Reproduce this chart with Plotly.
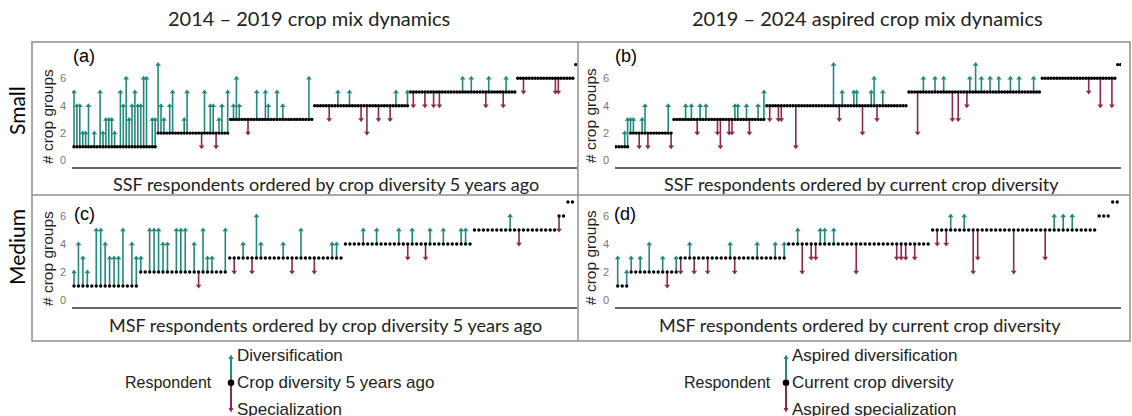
import plotly.graph_objects as go

W, H = 1132, 416

# ---------------- data ----------------
# (a) SSF 2014-2019, ordered by crop diversity 5 years ago
a_levels = [1, 2, 3, 4, 5, 6, 7]
a_counts = [29, 25, 29, 33, 37, 20, 1]
a_idx = [0, 1, 2, 3, 4, 5, 7, 9, 10, 11, 12, 13, 14, 16, 17, 18, 19, 20, 21, 22, 23, 24, 25, 27, 28,
         29, 30, 31, 33, 34, 38, 39, 44, 45, 47, 48, 49, 50, 51, 53,
         55, 56, 57, 60, 63, 66, 67, 70, 72, 81,
         88, 91, 95, 99, 101, 105, 109, 111, 115,
         117, 121, 124, 126, 134, 137, 142, 143, 148, 149,
         155, 166, 167]
a_to = [5, 4, 4, 2, 2, 4, 2, 5, 2, 3, 3, 3, 2, 5, 4, 6, 3, 4, 5, 4, 4, 6, 6, 3, 3,
        7, 4, 3, 4, 5, 3, 5, 1, 5, 4, 4, 1, 3, 4, 5,
        4, 6, 4, 2, 5, 5, 4, 5, 4, 6,
        3, 5, 5, 3, 2, 3, 3, 5, 5,
        4, 4, 4, 4, 6, 6, 4, 6, 4, 6,
        5, 5, 5]

# (b) SSF 2019-2024 aspired, ordered by current crop diversity
b_levels = [1, 2, 3, 4, 5, 6, 7]
b_counts = [5, 15, 32, 49, 46, 26, 2]
b_idx = [3, 4,
         5, 6, 8, 9, 10, 11, 18, 19,
         24, 26, 28, 29, 31, 35, 36, 39, 40, 41, 42, 45, 46, 49, 51,
         53, 56, 57, 62, 75, 77, 78, 82, 83, 85, 88, 89, 90, 92,
         104, 106, 110, 113, 116, 118, 121, 122, 124, 126, 129, 132, 136, 139, 144,
         163, 167, 171]
b_to = [2, 3,
        3, 3, 1, 3, 4, 1, 4, 1,
        4, 4, 2, 4, 4, 2, 1, 2, 2, 4, 4, 4, 2, 4, 5,
        3, 3, 3, 1, 7, 3, 5, 5, 5, 2, 5, 6, 3, 5,
        2, 6, 6, 6, 3, 3, 4, 6, 7, 6, 6, 6, 6, 6, 6,
        5, 4, 4]

# (c) MSF 2014-2019, ordered by crop diversity 5 years ago
c_levels = [1, 2, 3, 4, 5, 6, 7]
c_counts = [15, 20, 26, 29, 19, 2, 2]
c_idx = [0, 1, 2, 3, 5, 6, 7, 8, 9, 10, 11, 13, 14,
         15, 17, 18, 19, 20, 21, 23, 24, 25, 27, 28, 29, 30, 31, 34,
         36, 38, 40, 41, 42, 47, 49, 51, 54, 58, 59,
         65, 68, 73, 75, 76, 79, 80, 83, 87, 88,
         98, 100,
         109]
c_to = [2, 4, 3, 2, 5, 5, 4, 3, 3, 3, 5, 4, 3,
        3, 5, 5, 5, 4, 4, 5, 5, 5, 4, 1, 5, 3, 3, 5,
        2, 4, 2, 6, 4, 4, 2, 5, 2, 4, 4,
        5, 5, 5, 3, 5, 3, 5, 5, 5, 5,
        6, 4,
        5]

# (d) MSF 2019-2024 aspired, ordered by current crop diversity
d_levels = [1, 2, 3, 4, 5, 6, 7]
d_counts = [3, 11, 24, 32, 37, 3, 2]
d_idx = [0, 2,
         3, 5, 7, 10, 11, 13,
         14, 16, 17, 20, 25, 26, 31, 35, 37,
         40, 41, 43, 44, 45, 46, 48, 53, 62, 63, 64, 66,
         71, 73, 74, 77, 79, 80, 88, 95, 97, 99, 101]
d_to = [3, 2,
        3, 3, 4, 3, 1, 3,
        2, 4, 2, 2, 4, 2, 4, 4, 4,
        5, 2, 3, 3, 5, 5, 5, 2, 3, 3, 3, 3,
        4, 4, 6, 6, 2, 3, 2, 3, 6, 6, 6]

y_ticks = [0, 2, 4, 6]
panel_letters = ["(a)", "(b)", "(c)", "(d)"]
col_titles = ["2014 \u2013 2019 crop mix dynamics", "2019 \u2013 2024 aspired crop mix dynamics"]
row_titles = ["Small", "Medium"]
x_titles = ["SSF respondents ordered by crop diversity 5 years ago",
            "SSF respondents ordered by current crop diversity",
            "MSF respondents ordered by crop diversity 5 years ago",
            "MSF respondents ordered by current crop diversity"]
legend_left = ["Respondent", "Diversification", "Crop diversity 5 years ago", "Specialization"]
legend_right = ["Respondent", "Aspired diversification", "Current crop diversity", "Aspired specialization"]

# ---------------- styling / layout ----------------
TEAL = "#23897c"
MAROON = "#8c2a4c"
BOX = "#8f8f8f"
TXT = "#222222"
TICK = "#777777"
FONT_T = "Lato"
FONT_A = "Liberation Sans"

# panel geometry in pixels: x-domain, first-respondent px, spacing; y-domain, zero px, px per unit
panels = [
    dict(data=(a_levels, a_counts, a_idx, a_to), xd=(72, 577), x0=74.0, s=2.9,
         yd=(44, 167), v0=160.5, vs=13.7),
    dict(data=(b_levels, b_counts, b_idx, b_to), xd=(615, 1121), x0=616.0, s=2.9,
         yd=(44, 167), v0=160.5, vs=13.7),
    dict(data=(c_levels, c_counts, c_idx, c_to), xd=(72, 577), x0=74.0, s=4.45,
         yd=(199, 307), v0=300.0, vs=14.0),
    dict(data=(d_levels, d_counts, d_idx, d_to), xd=(615, 1121), x0=617.7, s=4.5,
         yd=(199, 307), v0=300.0, vs=14.0),
]


def fx(px):
    return px / W


def fy(py):
    return 1 - py / H


fig = go.Figure()
layout_axes = {}
for k, p in enumerate(panels):
    levels, counts, idx, to = p["data"]
    base = []
    for lv, c in zip(levels, counts):
        base += [lv] * c
    n = len(base)
    sfx = "" if k == 0 else str(k + 1)
    xa, ya = "x" + sfx, "y" + sfx

    ux, uy, dx, dy = [], [], [], []
    uhx, uhy, dhx, dhy = [], [], [], []
    for i, t in zip(idx, to):
        b = base[i]
        if t > b:
            ux += [i, i, None]; uy += [b, t, None]
            uhx.append(i); uhy.append(t)
        else:
            dx += [i, i, None]; dy += [b, t, None]
            dhx.append(i); dhy.append(t)

    fig.add_trace(go.Scatter(x=ux, y=uy, mode="lines", line=dict(color=TEAL, width=1.6),
                             xaxis=xa, yaxis=ya, hoverinfo="skip", showlegend=False))
    fig.add_trace(go.Scatter(x=dx, y=dy, mode="lines", line=dict(color=MAROON, width=1.6),
                             xaxis=xa, yaxis=ya, hoverinfo="skip", showlegend=False))
    fig.add_trace(go.Scatter(x=list(range(n)), y=base, mode="markers",
                             marker=dict(color="black", size=3.4, line=dict(width=0)),
                             xaxis=xa, yaxis=ya, showlegend=False))
    fig.add_trace(go.Scatter(x=uhx, y=uhy, mode="markers",
                             marker=dict(symbol="triangle-up", color=TEAL, size=5, line=dict(width=0)),
                             xaxis=xa, yaxis=ya, showlegend=False))
    fig.add_trace(go.Scatter(x=dhx, y=dhy, mode="markers",
                             marker=dict(symbol="triangle-down", color=MAROON, size=5, line=dict(width=0)),
                             xaxis=xa, yaxis=ya, showlegend=False))

    x_lo, x_hi = p["xd"]
    y_top, y_bot = p["yd"]
    xr = [(x_lo - p["x0"]) / p["s"], (x_hi - p["x0"]) / p["s"]]
    yr = [(p["v0"] - y_bot) / p["vs"], (p["v0"] - y_top) / p["vs"]]
    layout_axes["xaxis" + sfx] = dict(domain=[fx(x_lo), fx(x_hi)], range=xr, anchor=ya,
                                      showgrid=False, zeroline=False, showticklabels=False,
                                      ticks="", showline=True, linecolor="#666666", linewidth=1.5)
    layout_axes["yaxis" + sfx] = dict(domain=[fy(y_bot), fy(y_top)], range=yr, anchor=xa,
                                      showgrid=False, zeroline=False, showline=False,
                                      tickvals=y_ticks, ticks="", ticklabelstandoff=5,
                                      tickfont=dict(family=FONT_A, size=11, color=TICK))

fig.update_layout(**layout_axes)

ann = []
shapes = []


def note(cx, cy, text, size, family, color=TXT, angle=0, xanchor="center"):
    ann.append(dict(x=fx(cx), y=fy(cy), xref="paper", yref="paper", text=text, showarrow=False,
                    textangle=angle, xanchor=xanchor, yanchor="middle",
                    font=dict(family=family, size=size, color=color)))


# column titles
for txt, cx in zip(col_titles, [309, 867]):
    note(cx, 18, txt, 20, FONT_T)
# row titles
for txt, cy in zip(row_titles, [111, 247]):
    note(16, cy, txt, 21, FONT_T, "black", -90)
# y axis titles
for cx, cy in [(47, 116), (590, 116), (47, 258), (590, 258)]:
    note(cx, cy, "# crop groups", 15.5, FONT_A, TXT, -90)
# panel letters
for txt, (cx, cy) in zip(panel_letters, [(83.5, 55.7), (626, 55.7), (84, 214), (625, 214)]):
    note(cx, cy, txt, 18, FONT_A, "black")
# x titles
for txt, (cx, cy) in zip(x_titles, [(326, 184), (861, 184), (325, 325), (860, 325)]):
    note(cx, cy, txt, 18, FONT_T)

# box lines
line_style = dict(color=BOX, width=1.5)
shapes.append(dict(type="rect", xref="paper", yref="paper", x0=fx(32), x1=fx(1130), y0=fy(341), y1=fy(42),
                   line=line_style))
shapes.append(dict(type="line", xref="paper", yref="paper", x0=fx(32), x1=fx(1130), y0=fy(195), y1=fy(195),
                   line=line_style))
shapes.append(dict(type="line", xref="paper", yref="paper", x0=fx(578), x1=fx(578), y0=fy(341), y1=fy(42),
                   line=line_style))


# legends
def add_legend(sx, labels, lab_x, resp_x):
    cy = 382.7
    shapes.append(dict(type="line", xref="paper", yref="paper", x0=fx(sx), x1=fx(sx),
                       y0=fy(cy), y1=fy(358), line=dict(color=TEAL, width=2)))
    shapes.append(dict(type="line", xref="paper", yref="paper", x0=fx(sx), x1=fx(sx),
                       y0=fy(cy), y1=fy(409), line=dict(color=MAROON, width=2)))
    shapes.append(dict(type="path", xref="paper", yref="paper",
                       path=f"M {fx(sx-2.5)} {fy(359)} L {fx(sx+2.5)} {fy(359)} L {fx(sx)} {fy(354.5)} Z",
                       fillcolor=TEAL, line=dict(width=0)))
    shapes.append(dict(type="path", xref="paper", yref="paper",
                       path=f"M {fx(sx-2.5)} {fy(408)} L {fx(sx+2.5)} {fy(408)} L {fx(sx)} {fy(412.5)} Z",
                       fillcolor=MAROON, line=dict(width=0)))
    shapes.append(dict(type="circle", xref="paper", yref="paper", x0=fx(sx-3.3), x1=fx(sx+3.3),
                       y0=fy(cy+3.3), y1=fy(cy-3.3), fillcolor="black", line=dict(width=0)))
    note(resp_x, cy, labels[0], 16, FONT_A, TXT, 0, "right")
    for txt, ly in zip(labels[1:], [355.5, 382.7, 409.5]):
        note(lab_x, ly, txt, 17, FONT_A, TXT, 0, "left")


add_legend(231, legend_left, 235, 214)
add_legend(786, legend_right, 790, 773)

fig.update_layout(width=W, height=H, margin=dict(l=0, r=0, t=0, b=0),
                  paper_bgcolor="white", plot_bgcolor="white",
                  annotations=ann, shapes=shapes, showlegend=False)

fig.write_html("out.html")
